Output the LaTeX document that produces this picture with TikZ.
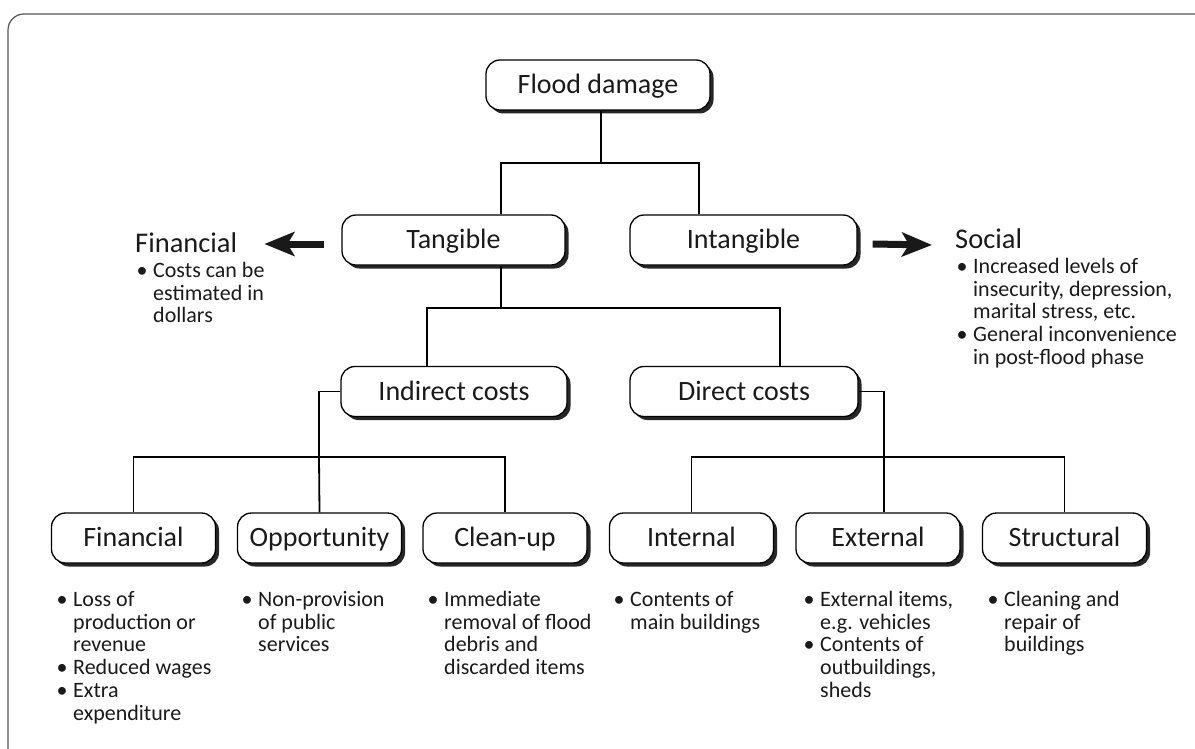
\documentclass[tikz,border=0pt]{standalone}
\usepackage{fontspec}
\setmainfont{Carlito}
\usetikzlibrary{shadows,arrows.meta}
\definecolor{ink}{HTML}{1A1A1A}
\definecolor{framegray}{HTML}{555555}
% bullet marker and hanging indent for the note lists
\newcommand\bulmark{\makebox[12pt][l]{\hspace*{-4.5pt}\textbullet}}
\newcommand\bulgap{\hspace*{12pt}}
\newcommand\topstrut{\rule{0pt}{18pt}}
\tikzset{
  box/.style={draw=black, line width=1.3pt, fill=white, rounded corners=14pt,
    minimum height=50pt, inner sep=0pt, text=ink,
    text height=17.6pt, text depth=0pt,
    font=\fontsize{28}{30}\selectfont,
    drop shadow={shadow xshift=3.5pt, shadow yshift=-3.5pt, fill=black!85, opacity=1}},
  smallbox/.style={box, minimum width=164pt},
  link/.style={draw=black, line width=1.8pt},
  fat/.style={draw=black!90, line width=7pt, -{Stealth[length=30pt, width=24pt, inset=7pt]}},
  heading/.style={anchor=base west, inner sep=0pt, text=ink, font=\fontsize{28.5}{30}\selectfont},
  notes/.style={anchor=north west, inner sep=0pt, align=left, text=ink,
    font=\fontsize{22}{22.8}\selectfont},
}
\begin{document}
\begin{tikzpicture}[x=1pt, y=-1pt]
\useasboundingbox (0,0) rectangle (1195,749);
\clip (0,0) rectangle (1195,749);
% outer frame
\draw[framegray, line width=1.2pt, rounded corners=16pt] (8,14) rectangle (1220,780);

% boxes
\node[box, minimum width=224pt] (flood) at (598,85) {Flood damage};
\node[box, minimum width=223pt] (tang) at (453.5,240) {Tangible};
\node[box, minimum width=227pt] (inta) at (743.5,240) {Intangible};
\node[box, minimum width=226pt] (indc) at (454,391.5) {Indirect costs};
\node[box, minimum width=228pt] (dirc) at (744,391.5) {Direct costs};
\node[smallbox] (fin) at (133.5,538) {Financial};
\node[smallbox] (opp) at (319.5,538) {Opportunity};
\node[smallbox] (cln) at (505,538) {Clean-up};
\node[smallbox] (intl) at (691.5,538) {Internal};
\node[smallbox] (ext) at (878,538) {External};
\node[smallbox] (strc) at (1064.5,538) {Structural};

% junction points
\coordinate (j0) at (601,163);
\coordinate (jt) at (501,163);
\coordinate (ji) at (699,163);
\coordinate (td) at (501,308);
\coordinate (jin) at (427,308);
\coordinate (jdi) at (780,308);
\coordinate (il) at (319,457);
\coordinate (dr) at (884,457);

% connectors
\path[link] (flood.south -| j0) -- (j0);
\path[link] (tang.north -| jt) -- (jt) -- (ji) -- (inta.north -| ji);
\path[link] (tang.south -| td) -- (td);
\path[link] (indc.north -| jin) -- (jin) -- (jdi) -- (dirc.north -| jdi);
\path[link] (indc.west) -| (il);
\path[link] (fin.north) |- (il) -| (cln.north);
\path[link] (il) -- (opp.north);
\path[link] (dirc.east) -| (dr);
\path[link] (intl.north) |- (dr) -| (strc.north);
\path[link] (dr) -- (ext.north -| dr);

% side headings with their notes
\node[heading] (finhead) at (135,252) {Financial};
\node[notes] (finnotes) at (141,259) {\topstrut\bulmark Costs can be\\ \bulgap estimated in\\ \bulgap dollars};
\node[heading] (sochead) at (955,248) {Social};
\node[notes] (socnotes) at (961,255) {\topstrut\bulmark Increased levels of\\ \bulgap insecurity, depression,\\ \bulgap marital stress, etc.\\ \bulmark General inconvenience\\ \bulgap in post-flood phase};

% thick arrows pointing to the side headings
\path[fat] ([xshift=-17pt, yshift=-4pt]tang.west) -- ([xshift=27pt]finhead.east |- 0,244);
\path[fat] ([xshift=15pt, yshift=-4pt]inta.east) -- ([xshift=-23pt]sochead.west |- 0,245);

% notes under the bottom boxes
\node[notes] (finn) at (61,588) {\topstrut\bulmark Loss of\\ \bulgap production or\\ \bulgap revenue\\ \bulmark Reduced wages\\ \bulmark Extra\\ \bulgap expenditure};
\node[notes] (oppn) at (246,588) {\topstrut\bulmark Non-provision\\ \bulgap of public\\ \bulgap services};
\node[notes] (clnn) at (432,588) {\topstrut\bulmark Immediate\\ \bulgap removal of flood\\ \bulgap debris and\\ \bulgap discarded items};
\node[notes] (intn) at (618,588) {\topstrut\bulmark Contents of\\ \bulgap main buildings};
\node[notes] (extn) at (808,588) {\topstrut\bulmark External items,\\ \bulgap e.g. vehicles\\ \bulmark Contents of\\ \bulgap outbuildings,\\ \bulgap sheds};
\node[notes] (strn) at (992,588) {\topstrut\bulmark Cleaning and\\ \bulgap repair of\\ \bulgap buildings};
\end{tikzpicture}
\end{document}
